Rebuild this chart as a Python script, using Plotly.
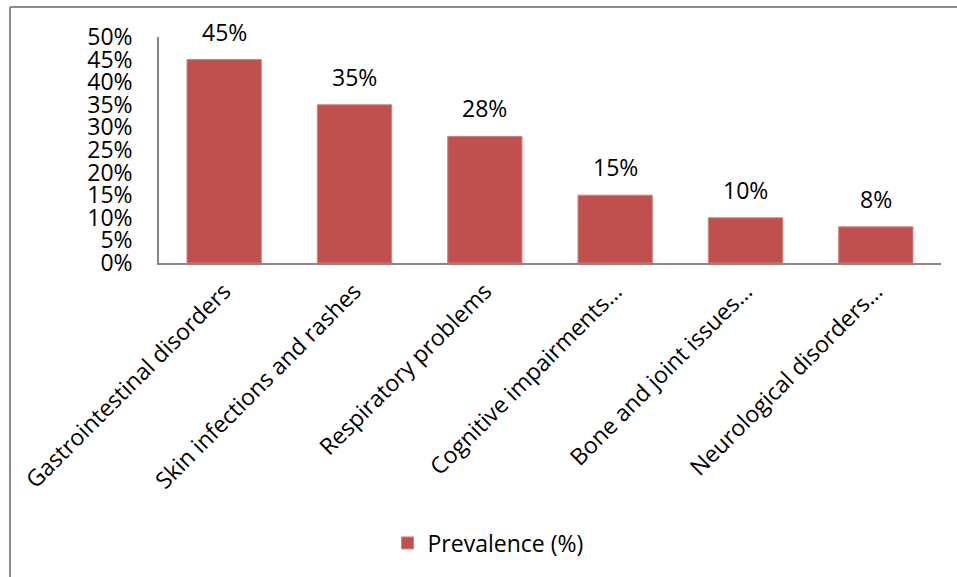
import plotly.graph_objects as go

categories = ["Gastrointestinal disorders", "Skin infections and rashes", "Respiratory problems",
              "Cognitive impairments…", "Bone and joint issues…", "Neurological disorders…"]
prevalence = [45, 35, 28, 15, 10, 8]
value_labels = ["45%", "35%", "28%", "15%", "10%", "8%"]
y_ticks = [0, 5, 10, 15, 20, 25, 30, 35, 40, 45, 50]
series_name = "Prevalence (%)"

FONT = "Open Sans"
FS = 23
W, H = 957, 577
L, R, T, B = 159, 16, 37, 314
pw = W - L - R
ph = H - T - B

def px_x(p):
    return (p - L) / pw

def px_y(p):
    return (H - B - p) / ph

fig = go.Figure()
fig.add_trace(go.Bar(
    x=categories, y=prevalence, name=series_name,
    marker=dict(color="#C0504D", line=dict(color="#D57F7C", width=1)),
    showlegend=True,
))

for c, v, t in zip(categories, prevalence, value_labels):
    fig.add_annotation(x=c, y=v, text=t, showarrow=False, yanchor="bottom",
                       yshift=10, font=dict(family=FONT, size=FS, color="black"))

fig.update_layout(
    width=W, height=H,
    margin=dict(l=L, r=R, t=T, b=B, autoexpand=False),
    paper_bgcolor="white", plot_bgcolor="white",
    bargap=0.43,
    font=dict(family=FONT, size=FS, color="black"),
    showlegend=True,
    legend=dict(orientation="h", x=px_x(488), xanchor="center", y=px_y(543), yanchor="middle",
                font=dict(family=FONT, size=FS, color="black"), bgcolor="rgba(0,0,0,0)",
                itemwidth=30),
    xaxis=dict(showline=True, linecolor="#868686", linewidth=1.5, tickangle=-45,
               showgrid=False, ticks="", ticklabelstandoff=4,
               tickfont=dict(family=FONT, size=FS, color="black")),
    yaxis=dict(range=[0, 50], tickvals=y_ticks, ticktext=[f"{v}%" for v in y_ticks],
               showline=True, linecolor="#868686", linewidth=1.5, showgrid=False,
               ticks="", ticklabelstandoff=20, zeroline=False,
               tickfont=dict(family=FONT, size=FS, color="black")),
    shapes=[
        dict(type="line", xref="paper", yref="paper", x0=px_x(10), x1=px_x(1000),
             y0=px_y(7), y1=px_y(7), line=dict(color="#8C8C8C", width=2)),
        dict(type="line", xref="paper", yref="paper", x0=px_x(10), x1=px_x(10),
             y0=px_y(7), y1=px_y(620), line=dict(color="#8C8C8C", width=2)),
    ],
)

fig.write_html("out.html")
